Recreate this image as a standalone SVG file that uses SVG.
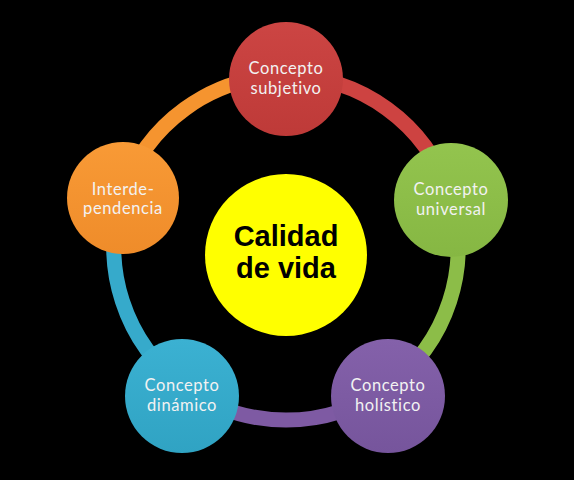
<svg xmlns="http://www.w3.org/2000/svg" width="574" height="480" viewBox="0 0 574 480">
<defs>
<style>
.lbl{font-family:Lato,"Open Sans","Liberation Sans",sans-serif;font-size:16.5px;fill:#F2F2F2;text-anchor:middle;letter-spacing:0.6px}
.ctr{font-family:"Liberation Sans",Arial,sans-serif;font-size:29px;font-weight:bold;fill:#000;text-anchor:middle}
.arc{fill:none;stroke-width:15}
</style>
<linearGradient id="gR" x1="0" y1="0" x2="0" y2="1"><stop offset="0" stop-color="#CC4543"/><stop offset="1" stop-color="#BE3A38"/></linearGradient>
<linearGradient id="gG" x1="0" y1="0" x2="0" y2="1"><stop offset="0" stop-color="#93C44E"/><stop offset="1" stop-color="#86B743"/></linearGradient>
<linearGradient id="gP" x1="0" y1="0" x2="0" y2="1"><stop offset="0" stop-color="#8461AA"/><stop offset="1" stop-color="#76559C"/></linearGradient>
<linearGradient id="gB" x1="0" y1="0" x2="0" y2="1"><stop offset="0" stop-color="#3BB1D2"/><stop offset="1" stop-color="#30A3C3"/></linearGradient>
<linearGradient id="gO" x1="0" y1="0" x2="0" y2="1"><stop offset="0" stop-color="#F89A36"/><stop offset="1" stop-color="#EF8C2A"/></linearGradient>
</defs>
<rect width="574" height="480" fill="#000"/>
<g id="connectors">
<path class="arc" stroke="#CD4341" d="M286 76 A172 172 0 0 1 449.6 194.8"/>
<path class="arc" stroke="#8CBD48" d="M449.6 194.8 A172 172 0 0 1 387.1 387.2"/>
<path class="arc" stroke="#7E5AA3" d="M387.1 387.2 A172 172 0 0 1 184.9 387.2"/>
<path class="arc" stroke="#36AACB" d="M184.9 387.2 A172 172 0 0 1 122.4 194.8"/>
<path class="arc" stroke="#F5942F" d="M122.4 194.8 A172 172 0 0 1 286 76"/>
</g>
<g id="center">
<circle cx="286" cy="255" r="81" fill="#FFFF00"/>
<text class="ctr" x="286" y="246">Calidad</text>
<text class="ctr" x="286" y="278">de vida</text>
</g>
<g id="n-subjetivo">
<circle cx="286" cy="79" r="57" fill="url(#gR)"/>
<text class="lbl" x="286" y="74">Concepto</text>
<text class="lbl" x="286" y="94">subjetivo</text>
</g>
<g id="n-universal">
<circle cx="451" cy="200" r="57" fill="url(#gG)"/>
<text class="lbl" x="451" y="195">Concepto</text>
<text class="lbl" x="451" y="215">universal</text>
</g>
<g id="n-holistico">
<circle cx="388" cy="396" r="57" fill="url(#gP)"/>
<text class="lbl" x="388" y="391">Concepto</text>
<text class="lbl" x="388" y="411">holístico</text>
</g>
<g id="n-dinamico">
<circle cx="182" cy="396" r="57" fill="url(#gB)"/>
<text class="lbl" x="182" y="391">Concepto</text>
<text class="lbl" x="182" y="411">dinámico</text>
</g>
<g id="n-interdependencia">
<circle cx="123" cy="198" r="56" fill="url(#gO)"/>
<text class="lbl" x="123" y="195">Interde-</text>
<text class="lbl" x="123" y="214">pendencia</text>
</g>
</svg>
